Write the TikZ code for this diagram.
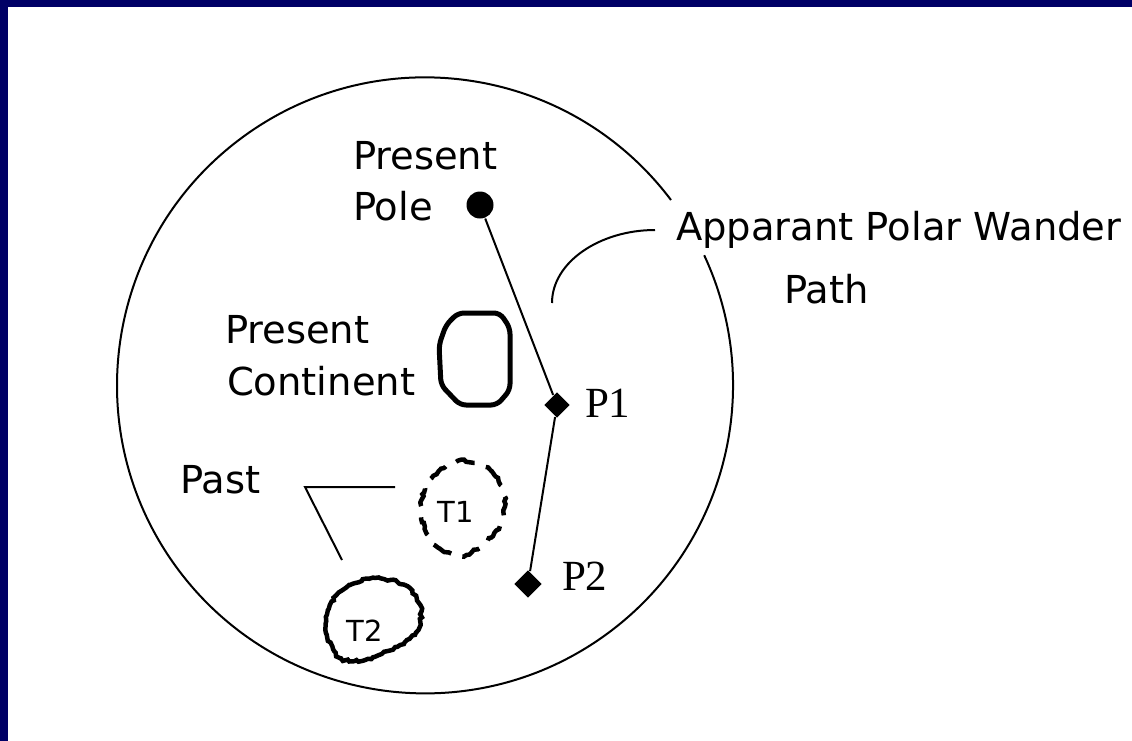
\documentclass[tikz,border=0pt]{standalone}
\usepackage{fontspec}
\setmainfont{DejaVu Sans}
\newfontfamily\pfont{Liberation Serif}
\usetikzlibrary{shapes.geometric,decorations.pathmorphing}
\definecolor{frameblue}{RGB}{0,0,102}
\tikzset{
lbl/.style={font=\fontsize{38.5}{46}\selectfont,inner sep=0pt,anchor=base west},
tlbl/.style={font=\fontsize{29}{34}\selectfont,inner sep=0pt},
plbl/.style={font=\pfont\fontsize{43}{50}\selectfont,inner sep=0pt,anchor=base west},
polemark/.style={diamond,fill,inner sep=0pt},
rough/.style={line width=4.5pt,decorate,decoration={random steps,segment length=3pt,amplitude=1.2pt}}
}
\begin{document}
\begin{tikzpicture}
[x=1pt,y=-1pt,line width=2pt]
\useasboundingbox (0,0) rectangle (1132,740);
\fill[white] (-10,-10) rectangle (1142,750);
\fill[frameblue] (-10,-10) rectangle (1142,7);
\fill[frameblue] (-10,-10) rectangle (8,750);
\draw (671,200) arc[start angle=-37,end angle=-385,radius=308];

\node[circle,fill,inner sep=0pt,minimum size=27pt] (pole) at (480,205) {};
\node[polemark,minimum size=26pt] (p1) at (557,405) {};
\node[polemark,minimum size=28pt] (p2) at (528,584) {};
\draw (pole) -- (p1) -- (p2);

\node[lbl] (poletop) at (352,169) {Present};
\node[lbl] (polebot) at (352,220) {Pole};
\node[lbl] (conttop) at (224,343) {Present};
\node[lbl] (contbot) at (226,395) {Continent};
\node[lbl] (apw) at (675,240) {Apparant Polar Wander};
\node[lbl] (apwpath) at (783,303) {Path};
\node[lbl] (past) at (179,493) {Past};
\node[plbl] (p1lbl) at (584,417) {P1};
\node[plbl] (p2lbl) at (561,590) {P2};
\node[tlbl] (t1) at (456,512) {T1};
\node[tlbl] (t2) at (365,631) {T2};

\draw[line width=5pt,rounded corners=6pt] (458,313) -- (500,313) -- (510,328) -- (510,390) -- (497,405) -- (460,405) -- (441,385) -- (439,345) -- (446,325) -- cycle;
\draw[rough,dash pattern=on 20pt off 12pt] plot[smooth cycle] coordinates {(458,461) (490,470) (504,495) (500,525) (482,545) (460,556) (435,545) (421,515) (428,482)};
\draw[rough] plot[smooth cycle] coordinates {(375,578) (405,585) (420,605) (418,630) (400,645) (365,660) (340,658) (327,635) (330,605) (350,585)};

\coordinate (apwa) at (655,230);
\coordinate (apwb) at (552,303);
\draw (apwa) .. controls (600,230) and (552,262) .. (apwb);
\coordinate (pasta) at (395,487);
\coordinate (pastb) at (305,487);
\coordinate (pastc) at (342,560);
\draw (pasta) -- (pastb) -- (pastc);
\end{tikzpicture}
\end{document}
